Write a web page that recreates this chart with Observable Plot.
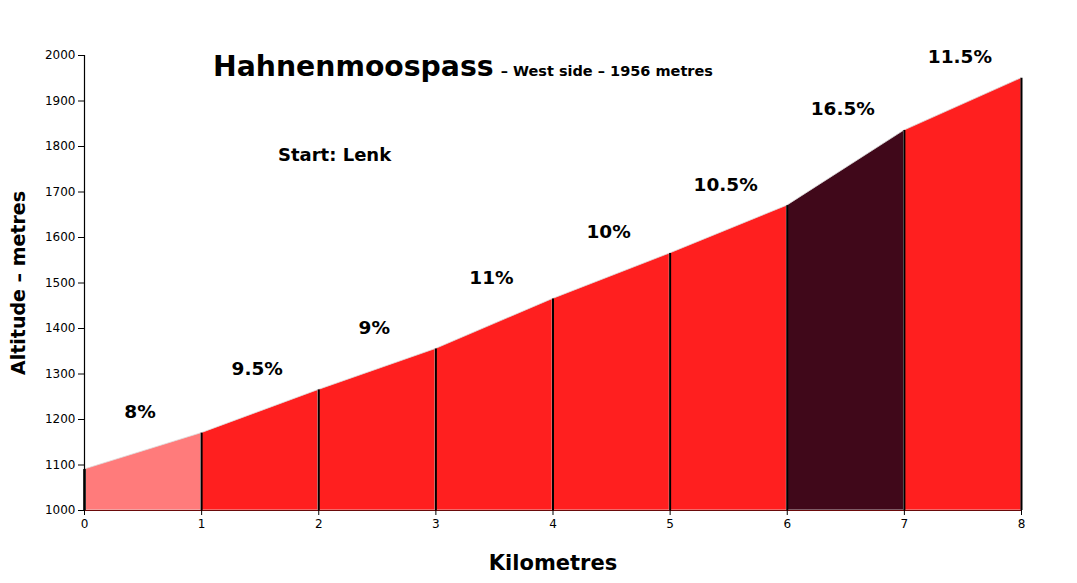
<!DOCTYPE html>
<html>
<head>
<meta charset="utf-8">
<script src="https://cdn.jsdelivr.net/npm/d3@7"></script>
<script src="https://cdn.jsdelivr.net/npm/@observablehq/plot@0.6"></script>
<style>
  html, body { margin: 0; padding: 0; background: #fff; }
  #wrap { position: relative; width: 1077px; height: 583px; font-family: "DejaVu Sans", sans-serif; }
  #title { position: absolute; left: 213px; top: 50px; white-space: nowrap; font-weight: bold; color: #000; }
  #title .big { font-size: 28.3px; }
  #title .small { font-size: 14.5px; margin-left: 7px; }
  #start { position: absolute; left: 278px; top: 144px; font-size: 18px; font-weight: bold; white-space: nowrap; }
</style>
</head>
<body>
<div id="wrap">
  <div id="chart"></div>
  <div id="title"><span class="big">Hahnenmoospass</span><span class="small">– West side – 1956 metres</span></div>
  <div id="start">Start: Lenk</div>
</div>
<script>
const km = [0, 1, 2, 3, 4, 5, 6, 7, 8];
const altitude = [1090, 1170, 1265, 1355, 1465, 1565, 1670, 1835, 1950];
const gradients = ["8%", "9.5%", "9%", "11%", "10%", "10.5%", "16.5%", "11.5%"];
const segmentColors = ["#ff7b7b", "#ff1f1f", "#ff1f1f", "#ff1f1f", "#ff1f1f", "#ff1f1f", "#40081a", "#ff1f1f"];
const yTicks = [1000, 1100, 1200, 1300, 1400, 1500, 1600, 1700, 1800, 1900, 2000];
const xTicks = [0, 1, 2, 3, 4, 5, 6, 7, 8];

const areaData = [];
gradients.forEach((g, i) => {
  areaData.push({seg: i, x: km[i], y: altitude[i], color: segmentColors[i]});
  areaData.push({seg: i, x: km[i + 1], y: altitude[i + 1], color: segmentColors[i]});
});
const labelData = gradients.map((g, i) => ({x: (km[i] + km[i + 1]) / 2, y: altitude[i + 1], label: g}));
const postData = km.map((k, i) => ({x: k, y: altitude[i]}));

const chart = Plot.plot({
  width: 1077,
  height: 583,
  marginLeft: 84,
  marginRight: 56,
  marginTop: 55,
  marginBottom: 73,
  style: {fontFamily: "DejaVu Sans, sans-serif", background: "#fff"},
  x: {domain: [0, 8]},
  y: {domain: [1000, 2000]},
  marks: [
    Plot.areaY(areaData, {x: "x", y1: 1000, y2: "y", z: "seg", fill: "color", stroke: "#dddddd", strokeWidth: 0.8}),
    Plot.ruleX(postData.slice(1), {x: "x", y1: 1000, y2: "y", stroke: "#000", strokeWidth: 2}),
    Plot.ruleX(postData.slice(0, 1), {x: "x", y1: 1000, y2: "y", stroke: "#333", strokeWidth: 3}),
    Plot.ruleY([1000], {stroke: "#6a0a0a", strokeWidth: 1.2}),
    Plot.ruleX([0], {stroke: "#000", strokeWidth: 1.2}),
    Plot.axisY(yTicks, {ticks: yTicks, tickSize: 6, tickPadding: 3, fontSize: 12, label: null, tickFormat: d => String(d), stroke: "#000"}),
    Plot.axisX(xTicks, {ticks: xTicks, tickSize: 5, tickPadding: 4, fontSize: 12, label: null, tickFormat: d => String(d), stroke: "#000"}),
    Plot.text(labelData, {x: "x", y: "y", text: "label", dx: -3, dy: -21, fontSize: 18.5, fontWeight: "bold", fill: "#000", lineAnchor: "middle"}),
    Plot.text(["Kilometres"], {frameAnchor: "bottom", dy: 53, fontSize: 21, fontWeight: "bold", fill: "#000", lineAnchor: "middle"}),
    Plot.text(["Altitude – metres"], {frameAnchor: "left", textAnchor: "middle", dx: -66, rotate: -90, fontSize: 19, fontWeight: "bold", fill: "#000", lineAnchor: "middle"})
  ]
});
document.getElementById("chart").appendChild(chart);
</script>
</body>
</html>
